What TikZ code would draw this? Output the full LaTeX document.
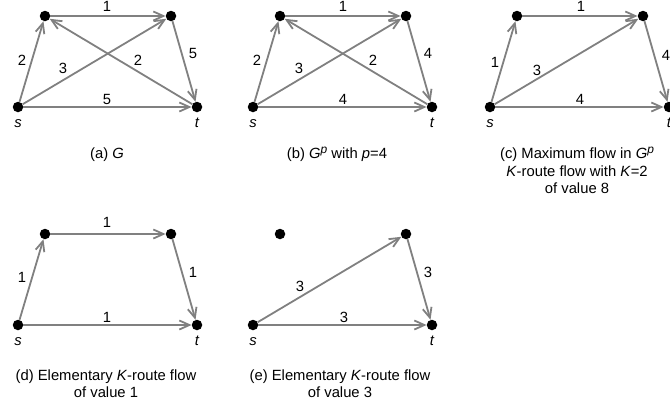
\documentclass[tikz,border=0pt]{standalone}
\usepackage{fontspec}
\setmainfont{Liberation Sans}
\usetikzlibrary{arrows.meta}
\definecolor{edgegray}{RGB}{128,128,128}
\newcommand{\supp}{\raisebox{5.5pt}{\fontsize{12}{12}\selectfont\itshape p}}
\begin{document}
\begin{tikzpicture}[x=1pt,y=-1pt,
  dot/.style={circle,fill=black,draw=none,inner sep=0pt,minimum size=10.5pt},
  e/.style={draw=edgegray,line width=1.8pt,-{Straight Barb[length=10pt,width=9pt]}},
  lbl/.style={font=\fontsize{14.8}{17.5}\selectfont,inner sep=0pt},
  nm/.style={font=\fontsize{14.8}{17.5}\selectfont\itshape,inner sep=0pt,anchor=base},
  capt/.style={font=\fontsize{14.8}{17.5}\selectfont,inner sep=0pt,anchor=base}]
\useasboundingbox (0,0) rectangle (670,407);

% (a)
\begin{scope}[shift={(0,0)}]
  \node[dot] (as) at (18,107) {};
  \node[dot] (au) at (45,16) {};
  \node[dot] (av) at (171,16) {};
  \node[dot] (at) at (197,107) {};
  \node[nm] (asl) at (18,127) {s};
  \node[nm] (atl) at (197,127) {t};
  \draw[e] (as) -- (au) node[lbl] at (22,60) {2};
  \draw[e] (as) -- (av) node[lbl] at (63,68) {3};
  \draw[e] (au) -- (av) node[lbl] at (107,6) {1};
  \draw[e] (at) -- (au) node[lbl] at (138,60) {2};
  \draw[e] (av) -- (at) node[lbl] at (193,53) {5};
  \draw[e] (as) -- (at) node[lbl] at (107,99) {5};
  \node[capt] (acap) at (107,158.5) {(a) \textit{G}};
\end{scope}

% (b)
\begin{scope}[shift={(235,0)}]
  \node[dot] (bs) at (18,107) {};
  \node[dot] (bu) at (45,16) {};
  \node[dot] (bv) at (171,16) {};
  \node[dot] (bt) at (197,107) {};
  \node[nm] (bsl) at (18,127) {s};
  \node[nm] (btl) at (197,127) {t};
  \draw[e] (bs) -- (bu) node[lbl] at (22,60) {2};
  \draw[e] (bs) -- (bv) node[lbl] at (64,68) {3};
  \draw[e] (bu) -- (bv) node[lbl] at (108,6) {1};
  \draw[e] (bt) -- (bu) node[lbl] at (138,60) {2};
  \draw[e] (bv) -- (bt) node[lbl] at (193,53) {4};
  \draw[e] (bs) -- (bt) node[lbl] at (108,99) {4};
  \node[capt] (bcap) at (102,158.5) {(b) \textit{G}\supp\ with \textit{p}=4};
\end{scope}

% (c)
\begin{scope}[shift={(472,0)}]
  \node[dot] (cs) at (18,107) {};
  \node[dot] (cu) at (45,16) {};
  \node[dot] (cv) at (171,16) {};
  \node[dot] (ct) at (197,107) {};
  \node[nm] (csl) at (18,127) {s};
  \node[nm] (ctl) at (197,127) {t};
  \draw[e] (cs) -- (cu) node[lbl] at (23,62) {1};
  \draw[e] (cs) -- (cv) node[lbl] at (65,70) {3};
  \draw[e] (cu) -- (cv) node[lbl] at (109,6) {1};
  \draw[e] (cv) -- (ct) node[lbl] at (194,55) {4};
  \draw[e] (cs) -- (ct) node[lbl] at (108,99) {4};
  \node[capt] (ccap1) at (105,158.5) {(c) Maximum flow in \textit{G}\supp};
  \node[capt] (ccap2) at (105,176) {\textit{K}-route flow with \textit{K}=2};
  \node[capt] (ccap3) at (105,193.5) {of value 8};
\end{scope}

% (d)
\begin{scope}[shift={(0,218)}]
  \node[dot] (ds) at (18,107) {};
  \node[dot] (du) at (45,16) {};
  \node[dot] (dv) at (171,16) {};
  \node[dot] (dt) at (197,107) {};
  \node[nm] (dsl) at (18,127) {s};
  \node[nm] (dtl) at (197,127) {t};
  \draw[e] (ds) -- (du) node[lbl] at (22,59) {1};
  \draw[e] (du) -- (dv) node[lbl] at (107,4) {1};
  \draw[e] (dv) -- (dt) node[lbl] at (193,54) {1};
  \draw[e] (ds) -- (dt) node[lbl] at (107,99) {1};
  \node[capt] (dcap1) at (106,162) {(d) Elementary \textit{K}-route flow};
  \node[capt] (dcap2) at (106,179.5) {of value 1};
\end{scope}

% (e)
\begin{scope}[shift={(235,218)}]
  \node[dot] (es) at (18,107) {};
  \node[dot] (eu) at (45,16) {};
  \node[dot] (ev) at (171,16) {};
  \node[dot] (et) at (197,107) {};
  \node[nm] (esl) at (18,127) {s};
  \node[nm] (etl) at (197,127) {t};
  \draw[e] (es) -- (ev) node[lbl] at (65,68) {3};
  \draw[e] (ev) -- (et) node[lbl] at (193,54) {3};
  \draw[e] (es) -- (et) node[lbl] at (109,99) {3};
  \node[capt] (ecap1) at (105,162) {(e) Elementary \textit{K}-route flow};
  \node[capt] (ecap2) at (105,179.5) {of value 3};
\end{scope}
\end{tikzpicture}
\end{document}
